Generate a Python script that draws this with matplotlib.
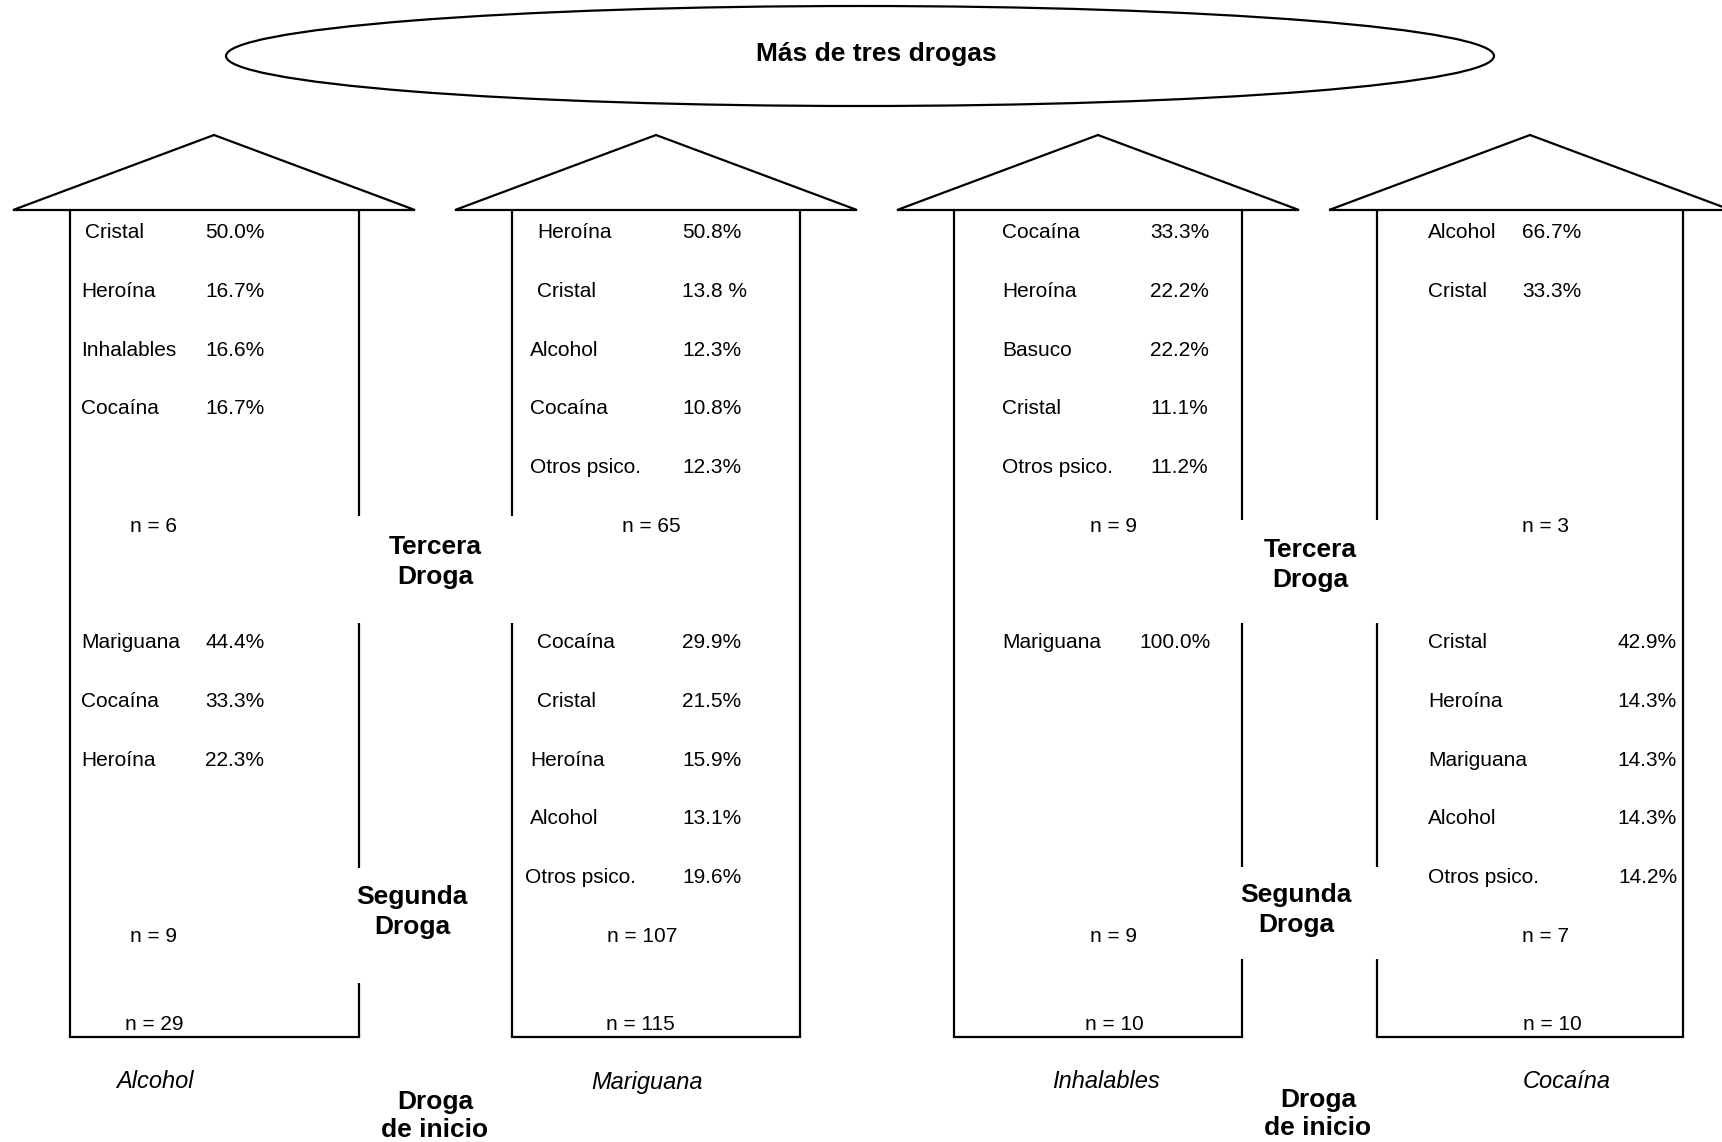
import matplotlib
matplotlib.use("Agg")
import matplotlib.pyplot as plt
from matplotlib.patches import Ellipse, Polygon

plt.rcParams['font.family'] = ['Liberation Sans', 'DejaVu Sans']

# ---------------- data ----------------
title = "Más de tres drogas"
start_drugs = ["Alcohol", "Mariguana", "Inhalables", "Cocaína"]
n_start = [29, 115, 10, 10]

second_labels = [
    ["Mariguana", "Cocaína", "Heroína"],
    ["Cocaína", "Cristal", "Heroína", "Alcohol", "Otros psico."],
    ["Mariguana"],
    ["Cristal", "Heroína", "Mariguana", "Alcohol", "Otros psico."],
]
second_values = [
    [44.4, 33.3, 22.3],
    [29.9, 21.5, 15.9, 13.1, 19.6],
    [100.0],
    [42.9, 14.3, 14.3, 14.3, 14.2],
]
n_second = [9, 107, 9, 7]

third_labels = [
    ["Cristal", "Heroína", "Inhalables", "Cocaína"],
    ["Heroína", "Cristal", "Alcohol", "Cocaína", "Otros psico."],
    ["Cocaína", "Heroína", "Basuco", "Cristal", "Otros psico."],
    ["Alcohol", "Cristal"],
]
third_values = [
    [50.0, 16.7, 16.6, 16.7],
    [50.8, 13.8, 12.3, 10.8, 12.3],
    [33.3, 22.2, 22.2, 11.1, 11.2],
    [66.7, 33.3],
]
n_third = [6, 65, 9, 3]

# ---------------- layout (pixel coordinates) ----------------
W, H = 1722, 1142
fig = plt.figure(figsize=(W / 100, H / 100), dpi=100)
ax = fig.add_axes([0, 0, 1, 1])
ax.set_xlim(0, W)
ax.set_ylim(H, 0)
ax.axis('off')

LW = 1.6
FS = 15
FS_BOLD = 19
FS_IT = 17

box_left = [70, 512, 954, 1377]
box_right = [359, 800, 1242, 1683]
apex_x = [214, 656, 1098, 1530]
roof_half = 201
roof_y, apex_y, bottom_y = 210, 135, 1037

# vertical side segments (y ranges) for left / right sides
left_segs = [
    [(210, 1037)],
    [(210, 516), (623, 1037)],
    [(210, 1037)],
    [(210, 520), (623, 867), (959, 1037)],
]
right_segs = [
    [(210, 516), (623, 868), (983, 1037)],
    [(210, 1037)],
    [(210, 520), (623, 867), (959, 1037)],
    [(210, 1037)],
]

# text columns
third_lab_x = [[85, 81, 81, 81], [537, 537, 530, 530, 530],
               [1002] * 5, [1428, 1428]]
third_val_x = [205, 682, 1150, 1522]
second_lab_x = [[81, 81, 81], [537, 537, 530, 530, 525],
                [1002], [1428] * 5]
second_val_x = [205, 682, 1139, 1677]
second_val_ha = ['left', 'left', 'left', 'right']
third_row_y0, second_row_y0, row_dy = 233, 643, 58.6
n_third_x = [154, 651, 1114, 1545]
n_second_x = [154, 642, 1114, 1545]
n_start_x = [154, 640, 1114, 1552]
start_x = [155, 647, 1106, 1567]

# ellipse with title
ax.add_patch(Ellipse((860, 56), 1268, 100, fill=False, lw=LW, color='black'))
ax.text(876, 54, title, fontsize=FS_BOLD, fontweight='bold',
        ha='center', va='center')

for i in range(4):
    # roof
    ax.add_patch(Polygon([(apex_x[i] - roof_half, roof_y), (apex_x[i], apex_y),
                          (apex_x[i] + roof_half, roof_y)], closed=True,
                         fill=False, lw=LW, edgecolor='black', joinstyle='miter'))
    # box sides and bottom
    for (y0, y1) in left_segs[i]:
        ax.plot([box_left[i], box_left[i]], [y0, y1], color='black', lw=LW,
                solid_capstyle='butt')
    for (y0, y1) in right_segs[i]:
        ax.plot([box_right[i], box_right[i]], [y0, y1], color='black', lw=LW,
                solid_capstyle='butt')
    ax.plot([box_left[i], box_right[i]], [bottom_y, bottom_y], color='black',
            lw=LW, solid_capstyle='projecting')

    # third drug block
    for j, (lab, val) in enumerate(zip(third_labels[i], third_values[i])):
        y = third_row_y0 + j * row_dy
        ax.text(third_lab_x[i][j], y, lab, fontsize=FS, ha='left', va='center')
        sep = " " if (i == 1 and j == 1) else ""
        ax.text(third_val_x[i], y, f"{val:.1f}{sep}%", fontsize=FS,
                ha='left', va='center')
    ax.text(n_third_x[i], 526, f"n = {n_third[i]}", fontsize=FS,
            ha='center', va='center')

    # second drug block
    for j, (lab, val) in enumerate(zip(second_labels[i], second_values[i])):
        y = second_row_y0 + j * row_dy
        ax.text(second_lab_x[i][j], y, lab, fontsize=FS, ha='left', va='center')
        ax.text(second_val_x[i], y, f"{val:.1f}%", fontsize=FS,
                ha=second_val_ha[i], va='center')
    ax.text(n_second_x[i], 937, f"n = {n_second[i]}", fontsize=FS,
            ha='center', va='center')

    # start drug
    ax.text(n_start_x[i], 1025, f"n = {n_start[i]}", fontsize=FS,
            ha='center', va='center')
    ax.text(start_x[i], 1082, start_drugs[i], fontsize=FS_IT, style='italic',
            ha='center', va='center')

# middle stage labels
stage_labels = [("Tercera\nDroga", 435, 562, 1.27), ("Tercera\nDroga", 1310, 565, 1.27),
                ("Segunda\nDroga", 412, 912, 1.27), ("Segunda\nDroga", 1296, 910, 1.27),
                ("Droga\nde inicio", 435, 1116, 1.2), ("Droga\nde inicio", 1318, 1114, 1.2)]
for txt, x, y, ls in stage_labels:
    ax.text(x, y, txt, fontsize=FS_BOLD, fontweight='bold', ha='center',
            va='center', linespacing=ls)

fig.savefig("out.png", dpi=100, facecolor='white')
